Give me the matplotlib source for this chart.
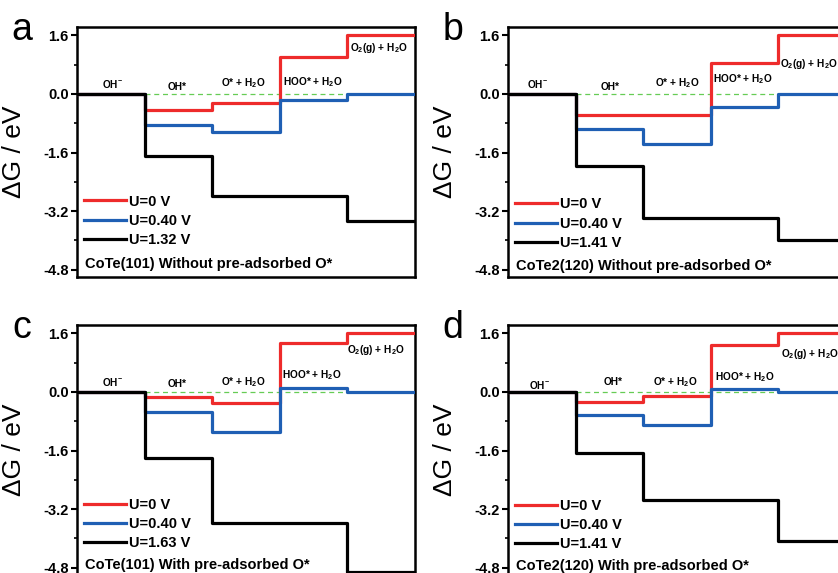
import matplotlib
matplotlib.use("Agg")
import matplotlib.pyplot as plt
from matplotlib.ticker import MultipleLocator

plt.rcParams['font.family'] = ['Liberation Sans', 'DejaVu Sans']
plt.rcParams['mathtext.default'] = 'bf'
plt.rcParams['mathtext.fontset'] = 'custom'
plt.rcParams['mathtext.bf'] = 'Liberation Sans:bold'
plt.rcParams['axes.unicode_minus'] = False

states = ['OH$^{-}$', 'OH*', 'O* + H$_2$O', 'HOO* + H$_2$O', 'O$_2$(g) + H$_2$O']

a_red = [0, -0.43, -0.25, 1.01, 1.62]
a_blue = [0, -0.84, -1.05, -0.17, 0.0]
a_black = [0, -1.69, -2.80, -2.80, -3.46]
b_red = [0, -0.57, -0.57, 0.85, 1.61]
b_blue = [0, -0.95, -1.37, -0.36, 0.0]
b_black = [0, -1.97, -3.38, -3.38, -3.99]
c_red = [0, -0.15, -0.31, 1.33, 1.62]
c_blue = [0, -0.56, -1.10, 0.12, 0.0]
c_black = [0, -1.79, -3.58, -3.58, -4.92]
d_red = [0, -0.26, -0.11, 1.27, 1.62]
d_blue = [0, -0.63, -0.91, 0.09, 0.0]
d_black = [0, -1.67, -2.94, -2.94, -4.07]

a_labels = ['U=0 V', 'U=0.40 V', 'U=1.32 V']
b_labels = ['U=0 V', 'U=0.40 V', 'U=1.41 V']
c_labels = ['U=0 V', 'U=0.40 V', 'U=1.63 V']
d_labels = ['U=0 V', 'U=0.40 V', 'U=1.41 V']

titles = ['CoTe(101) Without pre-adsorbed O*', 'CoTe2(120) Without pre-adsorbed O*',
          'CoTe(101) With pre-adsorbed O*', 'CoTe2(120) With pre-adsorbed O*']
letters = ['a', 'b', 'c', 'd']

# state label centre positions (x, y) in data coords per panel
a_lpos = [(0.52, 0.27), (1.48, 0.18), (2.46, 0.30), (3.49, 0.33), (4.47, 1.26)]
b_lpos = [(0.44, 0.27), (1.51, 0.19), (2.50, 0.30), (3.48, 0.40), (4.45, 0.83)]
c_lpos = [(0.52, 0.26), (1.48, 0.21), (2.46, 0.26), (3.47, 0.45), (4.42, 1.16)]
d_lpos = [(0.47, 0.19), (1.55, 0.26), (2.47, 0.26), (3.50, 0.40), (4.47, 1.03)]

W, H = 838, 573
fig = plt.figure(figsize=(W / 100, H / 100), dpi=100)

panels = [
    (77, 27, a_red, a_blue, a_black, a_labels, a_lpos, 0.330, 0.036),
    (508, 27, b_red, b_blue, b_black, b_labels, b_lpos, 0.318, 0.028),
    (77, 325, c_red, c_blue, c_black, c_labels, c_lpos, 0.307, 0.024),
    (508, 325, d_red, d_blue, d_black, d_labels, d_lpos, 0.303, 0.020),
]

aw, ah = 338, 250
red_c = '#ee2b2b'
blue_c = '#1f5fb4'

for i, (lx, ty, r, bl, bk, labs, lpos, legy, txty) in enumerate(panels):
    ax = fig.add_axes([lx / W, 1 - (ty + ah) / H, aw / W, ah / H])
    xs = list(range(6))
    ax.plot([1, 5], [0, 0], color='#66cc55', lw=0.9, ls=(0, (4, 3)), zorder=1)
    for vals, col, lab in [(r, red_c, labs[0]), (bl, blue_c, labs[1]), (bk, 'black', labs[2])]:
        ax.plot(xs, list(vals) + [vals[-1]], drawstyle='steps-post', color=col,
                lw=2.3, label=lab, zorder=3)
    ax.set_xlim(0, 5)
    ax.set_ylim(-5.0, 1.83)
    ax.set_xticks([])
    ax.yaxis.set_major_locator(MultipleLocator(1.6))
    ax.yaxis.set_minor_locator(MultipleLocator(0.8))
    ax.tick_params(axis='y', which='major', direction='out', length=4, width=1.5,
                   labelsize=10.5, pad=2)
    ax.tick_params(axis='y', which='minor', direction='out', length=2.5, width=1.2)
    for lbl in ax.get_yticklabels():
        lbl.set_fontweight('bold')
    for s in ax.spines.values():
        s.set_linewidth(1.8)
    ax.set_ylabel('ΔG / eV', fontsize=19)
    ax.yaxis.set_label_coords(-0.15, 0.5)
    for (sx, sy), st in zip(lpos, states):
        ax.text(sx, sy, st, fontsize=7.3, fontweight='bold', ha='center', va='center',
                zorder=4)
    leg = ax.legend(loc='upper left', bbox_to_anchor=(0.02, legy), frameon=False,
                    fontsize=10.5, handlelength=2.9, handletextpad=0.2,
                    labelspacing=0.35, borderpad=0, borderaxespad=0)
    for t in leg.get_texts():
        t.set_fontweight('bold')
    ax.text(0.025, txty, titles[i], transform=ax.transAxes, fontsize=10.5,
            fontweight='bold', ha='left', va='baseline')
    fig.text((lx - 55) / W, 1 - (ty + 13) / H, letters[i], fontsize=27,
             ha='center', va='baseline')

fig.savefig('out.png', dpi=100)
